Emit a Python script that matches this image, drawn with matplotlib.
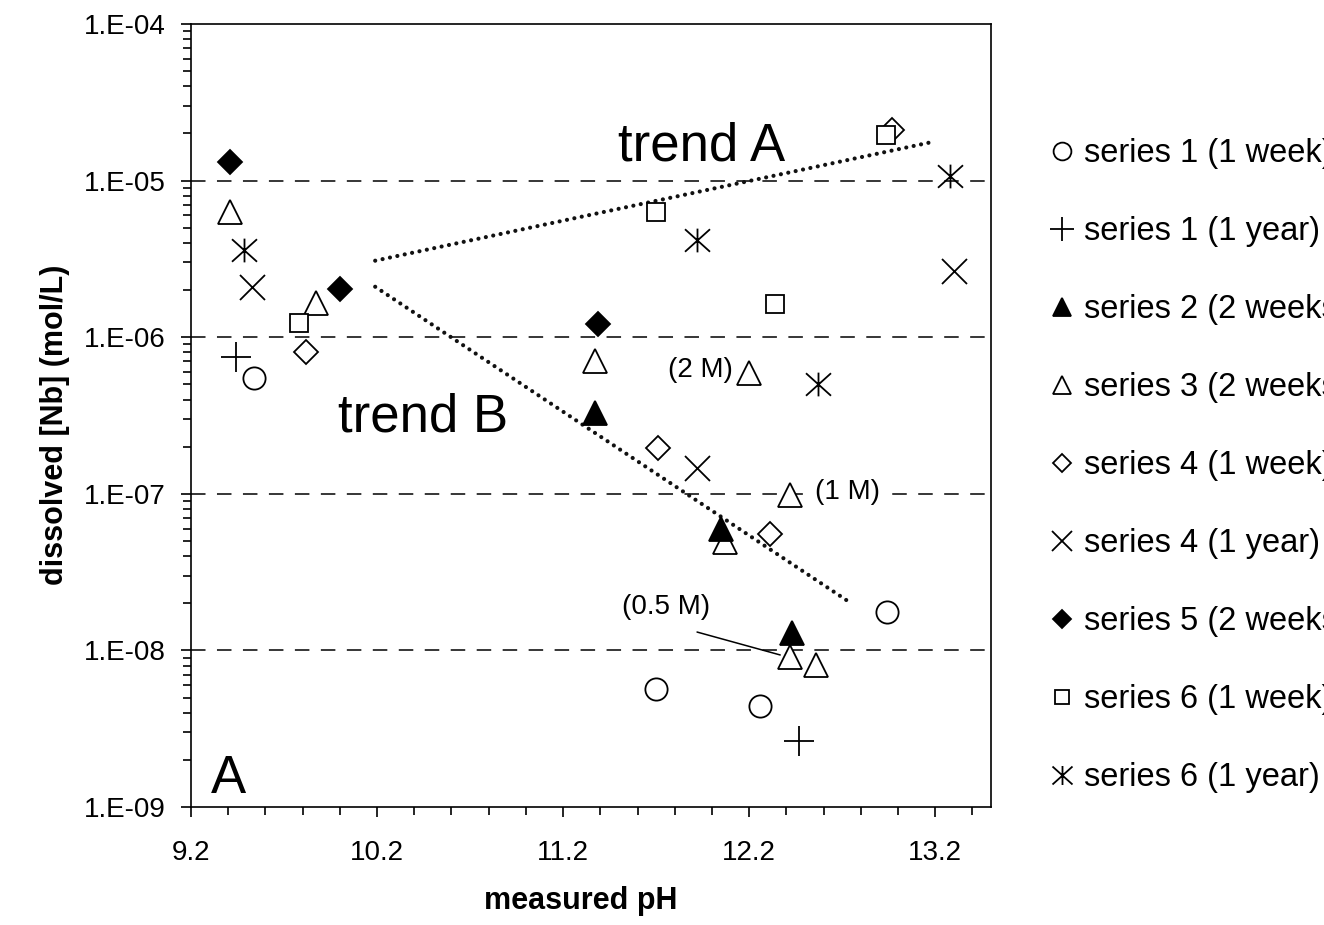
import math
import matplotlib
matplotlib.use('Agg')
import matplotlib.pyplot as plt
from matplotlib.path import Path
from matplotlib.ticker import FixedLocator, MultipleLocator, FuncFormatter, NullFormatter

plt.rcParams['font.family'] = ['Liberation Sans', 'DejaVu Sans']

# ---------------- data ----------------
s1w_ph = [9.54, 11.70, 12.26, 12.94]
s1w_nb = [5.5e-7, 5.7e-9, 4.4e-9, 1.75e-8]

s1y_ph = [9.44, 12.47]
s1y_nb = [7.5e-7, 2.65e-9]

s2_ph = [11.37, 12.05, 12.43]
s2_nb = [3.3e-7, 6.0e-8, 1.3e-8]

s3_ph = [9.41, 9.87, 11.37, 12.20, 12.42, 12.07, 12.42, 12.56]
s3_nb = [6.3e-6, 1.65e-6, 7.0e-7, 5.9e-7, 9.8e-8, 4.9e-8, 9.1e-9, 8.1e-9]

s4w_ph = [9.82, 11.71, 12.31, 12.97]
s4w_nb = [8.0e-7, 1.96e-7, 5.5e-8, 2.1e-5]

s4y_ph = [9.53, 11.92, 13.30]
s4y_nb = [2.1e-6, 1.46e-7, 2.65e-6]

s5_ph = [9.41, 10.00, 11.39]
s5_nb = [1.32e-5, 2.03e-6, 1.21e-6]

s6w_ph = [9.78, 11.70, 12.34, 12.935]
s6w_nb = [1.23e-6, 6.3e-6, 1.63e-6, 1.95e-5]

s6y_ph = [9.485, 11.92, 12.57, 13.28]
s6y_nb = [3.6e-6, 4.2e-6, 5.0e-7, 1.07e-5]

trendA_ph = [10.19, 13.18]
trendA_nb = [3.08e-6, 1.76e-5]
trendB_ph = [10.19, 12.74]
trendB_nb = [2.1e-6, 2.03e-8]

labels = ["series 1 (1 week)", "series 1 (1 year)", "series 2 (2 weeks)",
          "series 3 (2 weeks)", "series 4 (1 week)", "series 4 (1 year)",
          "series 5 (2 weeks)", "series 6 (1 week)", "series 6 (1 year)"]

x_major = [9.2, 10.2, 11.2, 12.2, 13.2]
y_decades = [1e-9, 1e-8, 1e-7, 1e-6, 1e-5, 1e-4]
y_dashed = [1e-8, 1e-7, 1e-6, 1e-5]

# ---------------- figure ----------------
fig = plt.figure(figsize=(13.24, 9.25), dpi=100)
ax = fig.add_axes([191 / 1324, 1 - 807 / 925, 800 / 1324, 783 / 925])
ax.set_yscale('log')
ax.set_xlim(9.2, 13.5)
ax.set_ylim(1e-9, 1e-4)

for v in y_dashed:
    ax.axhline(v, color='black', lw=1.1, ls=(0, (9.5, 7.5)), zorder=1)

for tph, tnb in [(trendA_ph, trendA_nb), (trendB_ph, trendB_nb)]:
    ax.plot(tph, tnb, color='#111111', lw=3.0, ls=(0, (0.01, 1.8)),
            dash_capstyle='round', zorder=2)

ast = Path([(0, -0.95), (0, 0.95), (-1, -0.9), (1, 0.9), (-1, 0.9), (1, -0.9)],
           [Path.MOVETO, Path.LINETO, Path.MOVETO, Path.LINETO, Path.MOVETO, Path.LINETO])

series = [
    (s1w_ph, s1w_nb, 'o', 16, 'white', labels[0]),
    (s1y_ph, s1y_nb, '+', 21, 'white', labels[1]),
    (s3_ph, s3_nb, '^', 17, 'white', labels[3]),
    (s2_ph, s2_nb, '^', 17, 'black', labels[2]),
    (s4w_ph, s4w_nb, 'D', 12, 'white', labels[4]),
    (s4y_ph, s4y_nb, 'x', 18, 'white', labels[5]),
    (s5_ph, s5_nb, 'D', 12, 'black', labels[6]),
    (s6w_ph, s6w_nb, 's', 13, 'white', labels[7]),
    (s6y_ph, s6y_nb, ast, 18, 'white', labels[8]),
]
handles = {}
for ph, nb, mk, ms, fc, lab in series:
    h, = ax.plot(ph, nb, ls='none', marker=mk, ms=ms, mfc=fc, mec='black',
                 mew=1.3, label=lab, zorder=3)
    handles[lab] = h

# text annotations
ax.text(0.534, 0.826, 'trend A', transform=ax.transAxes, fontsize=38,
        ha='left', va='baseline')
ax.text(0.184, 0.479, 'trend B', transform=ax.transAxes, fontsize=38,
        ha='left', va='baseline')
ax.text(0.025, 0.018, 'A', transform=ax.transAxes, fontsize=38,
        ha='left', va='baseline')
ax.text(11.937, 6.18e-7, '(2 M)', fontsize=20, ha='center', va='center', zorder=4)
ax.text(12.727, 1.03e-7, '(1 M)', fontsize=20, ha='center', va='center', zorder=4,
        bbox=dict(facecolor='white', edgecolor='none', pad=1))
ax.text(11.754, 1.89e-8, '(0.5 M)', fontsize=20, ha='center', va='center', zorder=4)
ax.annotate('', xy=(12.367, 9.35e-9), xytext=(11.92, 1.31e-8),
            arrowprops=dict(arrowstyle='-', lw=1.1, color='black',
                            shrinkA=0, shrinkB=0), zorder=4)

# axes styling
for sp in ax.spines.values():
    sp.set_linewidth(1.2)
ax.xaxis.set_major_locator(FixedLocator(x_major))
ax.xaxis.set_minor_locator(MultipleLocator(0.2))
ax.xaxis.set_major_formatter(FuncFormatter(lambda v, p: f"{v:.1f}"))
ax.yaxis.set_major_locator(FixedLocator(y_decades))
ax.yaxis.set_major_formatter(FuncFormatter(
    lambda v, p: "1.E%+03d" % round(math.log10(v)) if v > 0 else ""))
ax.yaxis.set_minor_formatter(NullFormatter())
ax.tick_params(axis='both', which='major', direction='out', length=7.5, width=1.2,
               labelsize=20, top=False, right=False)
ax.tick_params(axis='both', which='minor', direction='out', length=5.5, width=1.2,
               top=False, right=False)
ax.tick_params(axis='x', which='major', pad=16)
ax.tick_params(axis='y', which='major', pad=11)

ax.set_xlabel('measured pH', fontsize=22, fontweight='bold')
ax.set_ylabel('dissolved [Nb] (mol/L)', fontsize=22, fontweight='bold')
ax.xaxis.set_label_coords(0.4875, -0.101)
ax.yaxis.set_label_coords(-0.151, 0.488)

leg = fig.legend([handles[l] for l in labels], labels, loc='upper left',
                 bbox_to_anchor=(1051 / 1324, 1 - 138 / 925), frameon=False,
                 fontsize=23.5, markerscale=0.8, handlelength=0.7, handletextpad=0.3,
                 borderpad=0, borderaxespad=0, labelspacing=1.44)

fig.savefig('out.png', dpi=100)
